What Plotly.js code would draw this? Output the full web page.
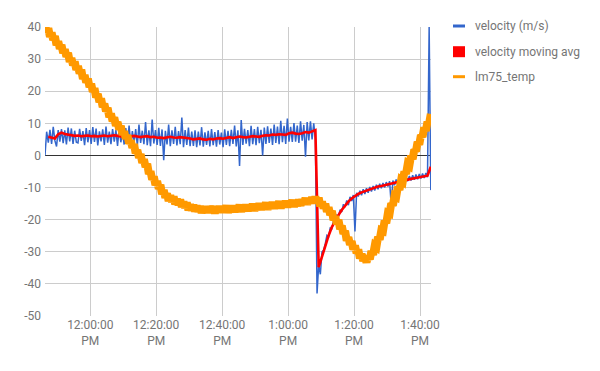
<!DOCTYPE html>
<html>
<head>
<meta charset="utf-8">
<script src="https://cdn.plot.ly/plotly-3.0.1.min.js"></script>
<style>html,body{margin:0;padding:0;background:#fff;}#chart{width:600px;height:371px;}</style>
</head>
<body>
<div id="chart"></div>
<script>
// Time axis: minutes relative to 12:00:00 PM
const seriesNames = ['velocity (m/s)', 'velocity moving avg', 'lm75_temp'];
const tickMinutes = [0, 20, 40, 60, 80, 100];
const tickLabels = ['12:00:00<br>PM', '12:20:00<br>PM', '12:40:00<br>PM', '1:00:00<br>PM', '1:20:00<br>PM', '1:40:00<br>PM'];
const yTicks = [40, 30, 20, 10, 0, -10, -20, -30, -40, -50];
const yTickLabels = ['40', '30', '20', '10', '0', '-10', '-20', '-30', '-40', '-50'];

// velocity (m/s): samples every 0.5 min starting 11:46:16 (-13.73 min)
const velocityStart = -13.73, velocityStep = 0.5;
const velocity = [
  0, 7.4, 4.0, 8.0, 3.6, 8.9, 4.6, 2.8, 7.9, 4.3,
  8.2, 3.8, 7.8, 3.4, 8.7, 4.4, 8.4, 3.6, 7.7, 4.1,
  3.9, 8.3, 4.5, 7.6, 3.2, 8.5, 4.1, 7.9, 3.6, 8.8,
  4.2, 8.4, 3.1, 7.5, 4.4, 8.1, 3.3, 9.0, 4.0, 7.4,
  3.5, 8.2, 4.3, 7.9, 3.0, 8.6, 4.1, 7.3, 3.4, 8.5,
  4.0, 9.3, 3.4, 7.6, 3.8, 8.2, 3.1, 9.6, 3.9, 7.7,
  3.5, 10.4, 3.2, 7.8, 2.9, 11.2, 3.7, 7.9, 3.3, 8.6,
  3.0, 8.1, -1.5, 7.7, 3.4, 9.6, 2.9, 7.8, 3.6, 8.9,
  3.1, 7.6, 3.5, 11.8, 2.6, 7.9, 3.3, 8.7, 2.9, 7.4,
  3.0, 7.8, 2.6, 7.4, 3.1, 8.8, 2.7, 7.2, 3.3, 7.7,
  2.8, 8.2, 3.2, 7.3, 2.7, 7.9, 3.4, 7.1, 2.6, 8.1,
  3.3, 7.7, 2.9, 8.0, 3.6, 9.3, 2.8, 7.8, -3.3, 11.0,
  3.3, 8.3, 3.7, 7.9, 2.9, 9.2, 3.5, 8.2, 3.2, 8.9,
  3.8, 8.0, 0.0, 8.7, 3.6, 9.1, 3.9, 8.4, 3.3, 9.6,
  3.9, 9.0, 3.5, 10.8, 4.1, 9.2, 3.6, 11.5, 4.3, 8.9,
  4.2, 10.1, 4.3, 9.3, 3.9, 10.6, 4.6, 9.5, -0.4, 10.4,
  4.7, 10.6, 5.0, 10.0, 5.0, -43, -34, -37, -30, -29.5,
  -27.5, -24.9, -25.3, -22.6, -22.8, -20.4, -20.9, -18.6, -19.0, -16.9,
  -17.6, -15.2, -16.1, -14.0, -15.5, -12.9, -14.2, -12.3, -23.7, -11.6,
  -12.8, -11.0, -12.4, -10.5, -12.0, -10.2, -11.6, -9.8, -11.2, -9.5,
  -10.9, -9.1, -10.5, -8.8, -10.2, -8.6, -10.0, -8.3, -9.7, -8.0,
  -15.4, -7.8, -9.3, -7.5, -8.9, -7.1, -8.6, -6.8, -8.3, -6.6,
  -8.0, -6.4, -7.8, -6.2, -7.6, -5.9, -7.4, -5.8, -7.2, -5.6,
  -7.0, -5.5, -6.8, 40, -10.8
];

// velocity moving avg: every 1 min starting -12.73 min
const avgStart = -12.73, avgStep = 1;
const velocityAvg = [
  5.8, 5.6, 5.3, 6.6, 7.1, 6.7, 6.5, 6.3, 6.1, 6.2,
  6.0, 6.1, 6.2, 6.0, 6.1, 5.9, 6.0, 6.2, 6.0, 6.1,
  6.3, 6.1, 5.9, 6.0, 5.8, 5.9, 6.1, 5.9, 5.7, 5.9,
  6.0, 5.7, 5.8, 5.5, 5.6, 5.4, 5.7, 5.8, 5.6, 5.5,
  5.7, 5.6, 5.4, 5.3, 5.0, 5.1, 5.3, 5.0, 4.9, 5.2,
  5.0, 5.3, 5.4, 5.2, 5.5, 5.7, 5.4, 5.6, 5.9, 5.7,
  5.6, 5.8, 6.0, 5.9, 5.8, 6.1, 6.3, 6.2, 6.5, 6.4,
  6.6, 6.5, 6.4, 6.9, 7.1, 6.8, 6.7, 6.9, 7.3, 7.1,
  7.5, 7.9, -34.8, -31.5, -27.8, -25.0, -22.3, -20.3, -18.6, -17.0,
  -15.6, -14.4, -13.4, -12.6, -12.0, -11.5, -11.1, -10.7, -10.3, -10.0,
  -9.7, -9.5, -9.3, -9.1, -8.9, -8.6, -8.3, -8.0, -7.7, -7.5,
  -7.3, -7.1, -6.9, -6.7, -6.5, -6.3, -3.5
];

// lm75_temp: every 0.5 min starting -13.73 min
const tempStart = -13.73, tempStep = 0.5;
const lm75Temp = [
  40.7, 38.5, 39.6, 37.0, 38.2, 36.0, 37.1, 34.4, 35.5, 33.3,
  34.4, 31.9, 33.0, 30.8, 31.9, 29.2, 30.3, 28.1, 29.2, 26.7,
  27.8, 25.6, 26.7, 23.9, 25.0, 22.8, 23.9, 21.3, 22.3, 19.9,
  20.9, 18.1, 19.1, 16.7, 17.7, 15.1, 16.1, 13.8, 14.8, 12.0,
  13.0, 10.7, 11.8, 9.3, 10.4, 8.1, 9.2, 6.4, 7.5, 5.2,
  6.3, 3.7, 4.7, 2.4, 3.5, 0.7, 1.7, -0.7, 0.4, -2.3,
  -1.2, -3.6, -2.6, -5.7, -4.9, -7.5, -6.6, -9.2, -8.0, -10.3,
  -9.2, -12.0, -10.8, -13.1, -11.9, -14.1, -12.5, -14.4, -12.8, -15.2,
  -13.6, -15.4, -13.8, -16.0, -14.4, -16.3, -14.7, -17.0, -15.3, -17.1,
  -15.4, -17.4, -15.7, -17.5, -15.8, -17.9, -16.1, -17.7, -15.9, -17.8,
  -15.9, -17.6, -15.9, -18.0, -16.1, -17.7, -15.8, -17.7, -15.9, -17.5,
  -15.6, -17.8, -16.0, -17.6, -15.7, -17.6, -15.7, -17.3, -15.4, -17.5,
  -15.7, -17.3, -15.4, -17.3, -15.4, -17.0, -15.1, -17.2, -15.3, -16.9,
  -15.0, -16.9, -15.0, -16.6, -14.7, -16.8, -14.9, -16.5, -14.6, -16.5,
  -14.6, -16.2, -14.3, -16.4, -14.5, -16.1, -14.2, -16.1, -14.2, -15.8,
  -13.9, -16.0, -14.1, -15.7, -13.8, -15.6, -13.7, -15.2, -13.3, -15.3,
  -13.4, -14.9, -13.0, -14.8, -12.9, -14.8, -13.2, -15.8, -14.4, -16.5,
  -15.1, -17.5, -16.2, -18.5, -17.3, -20.1, -19.0, -21.3, -20.1, -22.9,
  -21.9, -24.4, -23.5, -26.5, -25.5, -27.8, -26.7, -29.3, -28.1, -30.4,
  -29.3, -32.0, -30.7, -32.8, -31.5, -33.3, -31.3, -32.3, -29.8, -30.9,
  -28.1, -28.5, -25.4, -26.2, -23.3, -23.5, -20.3, -21.1, -17.9, -18.1,
  -14.9, -15.6, -12.6, -12.9, -9.8, -10.7, -7.7, -8.1, -5.0, -5.7,
  -2.7, -3.1, -0.1, -1.1, 1.8, 1.3, 4.2, 3.4, 6.3, 5.8,
  8.7, 7.7, 10.5, 10.0, 12.9
];

function times(start, step, n) {
  const t = [];
  for (let i = 0; i < n; i++) t.push(+(start + i * step).toFixed(3));
  return t;
}

const FONT = 'Roboto, Arial, sans-serif';
const GREY = '#757575';
const colors = ['#3366cc', '#ff0000', '#ff9900'];

const traces = [
  {x: times(velocityStart, velocityStep, velocity.length), y: velocity, name: seriesNames[0],
   type: 'scatter', mode: 'lines', line: {color: colors[0], width: 1.5}},
  {x: times(avgStart, avgStep, velocityAvg.length), y: velocityAvg, name: seriesNames[1],
   type: 'scatter', mode: 'lines', line: {color: colors[1], width: 2.6}},
  {x: times(tempStart, tempStep, lm75Temp.length), y: lm75Temp, name: seriesNames[2],
   type: 'scatter', mode: 'lines', line: {color: colors[2], width: 8}}
];

// Custom legend (paper coords relative to plot area 45..431 x, 27..316 y)
const L = 45, R = 431, T = 27, B = 316;
const px = v => (v - L) / (R - L);
const py = v => (B - v) / (B - T);
const rows = [26, 51.7, 76.7];
const shapes = [
  {type: 'line', xref: 'paper', yref: 'paper', x0: px(453), x1: px(465), y0: py(rows[0]), y1: py(rows[0]), line: {color: colors[0], width: 3}},
  {type: 'rect', xref: 'paper', yref: 'paper', x0: px(453), x1: px(465), y0: py(rows[1] + 5.5), y1: py(rows[1] - 5.5), line: {width: 0}, fillcolor: colors[1]},
  {type: 'line', xref: 'paper', yref: 'paper', x0: px(453), x1: px(465), y0: py(rows[2]), y1: py(rows[2]), line: {color: colors[2], width: 3}}
];
const annotations = seriesNames.map((n, k) => ({
  text: n, xref: 'paper', yref: 'paper', x: px(473), y: py(rows[k]), xanchor: 'left', yanchor: 'middle',
  showarrow: false, font: {family: FONT, size: 12, color: GREY}
}));

const layout = {
  width: 600, height: 371,
  margin: {l: L, r: 600 - R, t: T, b: 371 - B, pad: 0},
  paper_bgcolor: '#fff', plot_bgcolor: '#fff',
  showlegend: false,
  hovermode: false,
  font: {family: FONT, size: 12, color: GREY},
  xaxis: {
    range: [-13.73, 103.33], tickvals: tickMinutes, ticktext: tickLabels,
    showgrid: true, gridcolor: '#cccccc', gridwidth: 1, zeroline: false, showline: false,
    ticks: '', tickfont: {family: FONT, size: 12, color: GREY}, fixedrange: true
  },
  yaxis: {
    range: [-50, 40], tickvals: yTicks, ticktext: yTickLabels,
    showgrid: true, gridcolor: '#cccccc', gridwidth: 1,
    zeroline: true, zerolinecolor: '#333333', zerolinewidth: 1, showline: false,
    ticks: '', ticklabelstandoff: 3, tickfont: {family: FONT, size: 12, color: GREY}, fixedrange: true
  },
  shapes: shapes,
  annotations: annotations
};

Plotly.newPlot('chart', traces, layout, {displayModeBar: false, staticPlot: true});
</script>
</body>
</html>
